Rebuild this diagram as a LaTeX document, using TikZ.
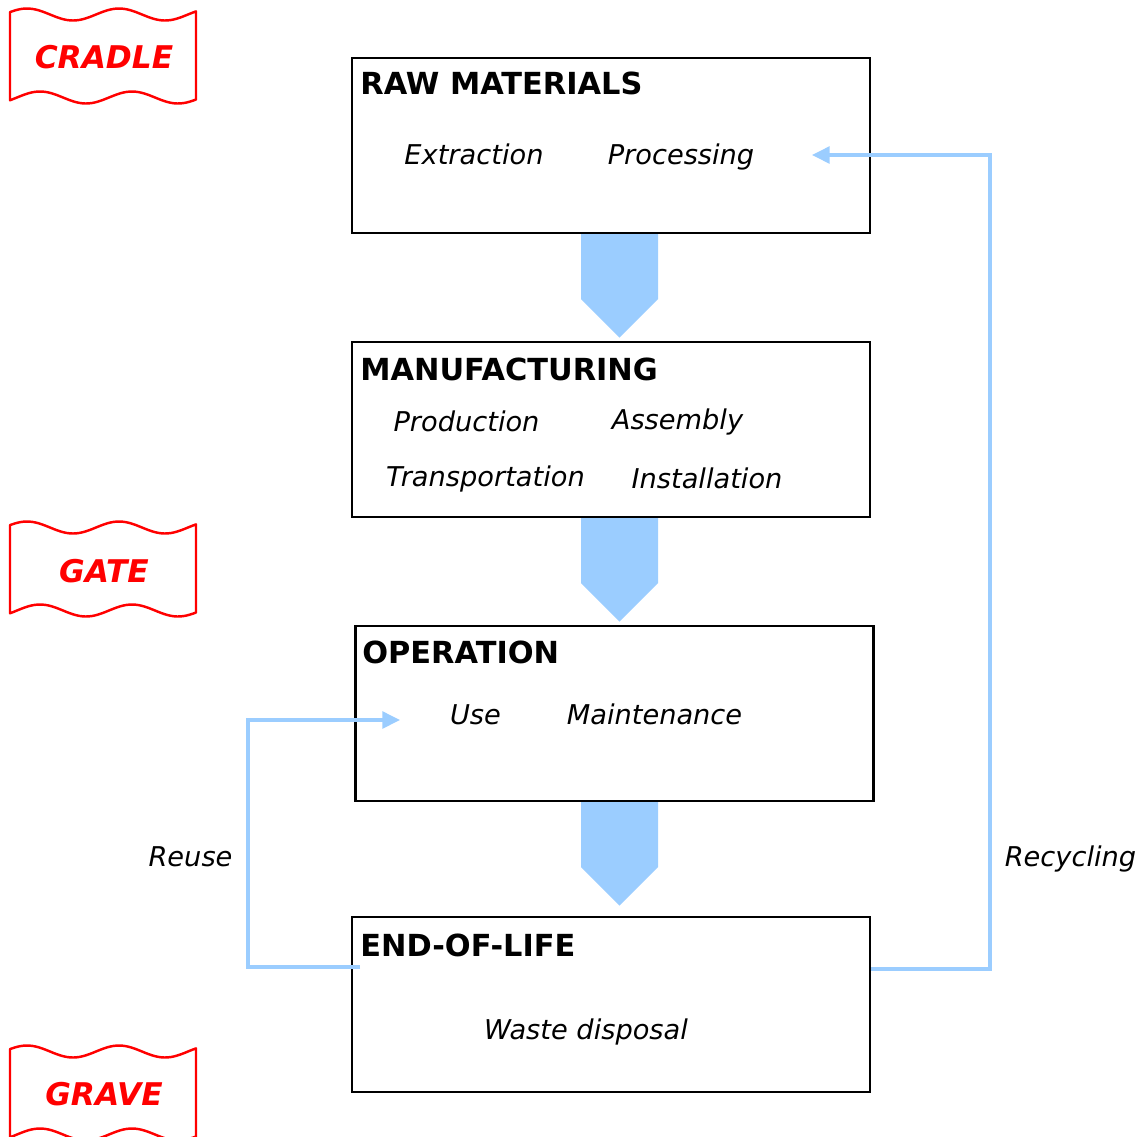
\documentclass[tikz,border=0pt]{standalone}
\usepackage{fontspec}
\setmainfont{DejaVu Sans}
\usetikzlibrary{arrows.meta,calc}
\definecolor{flowblue}{RGB}{155,205,255}
\definecolor{tagred}{RGB}{255,0,0}

\tikzset{
  stage/.style = {draw, line width = 1.3pt, minimum width = 10.36cm, minimum height = 3.5cm, inner sep = 0},
  title/.style = {anchor = west, inner sep = 0, font = \fontsize{17.3}{20}\selectfont\bfseries},
  item/.style = {anchor = base, inner sep = 0, font = \fontsize{15.5}{18}\selectfont\itshape},
  flowarrow/.style = {fill = flowblue},
  loopline/.style = {draw = flowblue, line width = 1.9pt, -{Triangle[length = 10pt, width = 9.5pt]}},
  tag/.style = {draw = tagred, line width = 1.4pt, line join = round},
  tagtext/.style = {text = tagred, inner sep = 0, font = \fontsize{17.8}{20}\selectfont\bfseries\itshape}
}

\begin{document}
\begin{tikzpicture}[x = 0.02cm, y = -0.02cm]
\useasboundingbox (0,0) rectangle (1144,1137);

% wavy tags on the left (wave period 92 px)
\draw[tag, shift = {(10,14.5)}] plot[domain = 0:186, samples = 60, smooth] (\x, {-6*cos(3.913*(\x-17))})
  -- plot[domain = 186:0, samples = 60, smooth] (\x, {83-6*cos(3.913*(\x-30))}) -- cycle;
\node[tagtext] at (104,57) (cradle) {CRADLE};
\draw[tag, shift = {(10,527.5)}] plot[domain = 0:186, samples = 60, smooth] (\x, {-6*cos(3.913*(\x-17))})
  -- plot[domain = 186:0, samples = 60, smooth] (\x, {83-6*cos(3.913*(\x-30))}) -- cycle;
\node[tagtext] at (104,571) (gate) {GATE};
\draw[tag, shift = {(10,1051.5)}] plot[domain = 0:186, samples = 60, smooth] (\x, {-6*cos(3.913*(\x-17))})
  -- plot[domain = 186:0, samples = 60, smooth] (\x, {83-6*cos(3.913*(\x-30))}) -- cycle;
\node[tagtext] at (104,1094) (grave) {GRAVE};

% the four stages
\node[stage] at (611,145.5) (raw) {};
\node[stage] at (611,429.5) (manu) {};
\node[stage] at (614.5,713.5) (oper) {};
\node[stage] at (611,1004.5) (eol) {};

\node[title] at (360,83) (rawtitle) {RAW MATERIALS};
\node[item] at (474,164) (extr) {Extraction};
\node[item] at (681,164) (proc) {Processing};

\node[title] at (360,369) (manutitle) {MANUFACTURING};
\node[item] at (466.5,431) (prod) {Production};
\node[item] at (677.5,429) (assy) {Assembly};
\node[item] at (485.5,486) (trans) {Transportation};
\node[item] at (707,488) (inst) {Installation};

\node[title] at (362,652) (opertitle) {OPERATION};
\node[item] at (475.5,724) (use) {Use};
\node[item] at (654.5,724) (maint) {Maintenance};

\node[title] at (360,945) (eoltitle) {END-OF-LIFE};
\node[item] at (586,1039) (waste) {Waste disposal};

% block arrows between stages
\fill[flowarrow] ($(raw.south)+(-30,0)$) -- ++(77,0) -- ++(0,65) -- ++(-38.5,38.5) -- ++(-38.5,-38.5) -- cycle;
\fill[flowarrow] ($(manu.south)+(-30,0)$) -- ++(77,0) -- ++(0,65) -- ++(-38.5,38.5) -- ++(-38.5,-38.5) -- cycle;
\fill[flowarrow] ($(oper.south)+(-33.5,0)$) -- ++(77,0) -- ++(0,65) -- ++(-38.5,38.5) -- ++(-38.5,-38.5) -- cycle;

% loops back
\coordinate (recout) at ($(eol.north east)!.3!(eol.south east)$);
\coordinate (reccorner) at (990,155);
\coordinate (recin) at (812,155);
\draw[loopline] (recout) -| (reccorner) -- (recin);
\node[item] at (1070.5,866) (recycling) {Recycling};

\coordinate (reuseout) at (360,967);
\coordinate (reusecorner) at (248,720);
\coordinate (reusein) at (400,720);
\draw[loopline] (reuseout) -| (reusecorner) -- (reusein);
\node[item] at (190.5,866) (reuse) {Reuse};
\end{tikzpicture}
\end{document}
